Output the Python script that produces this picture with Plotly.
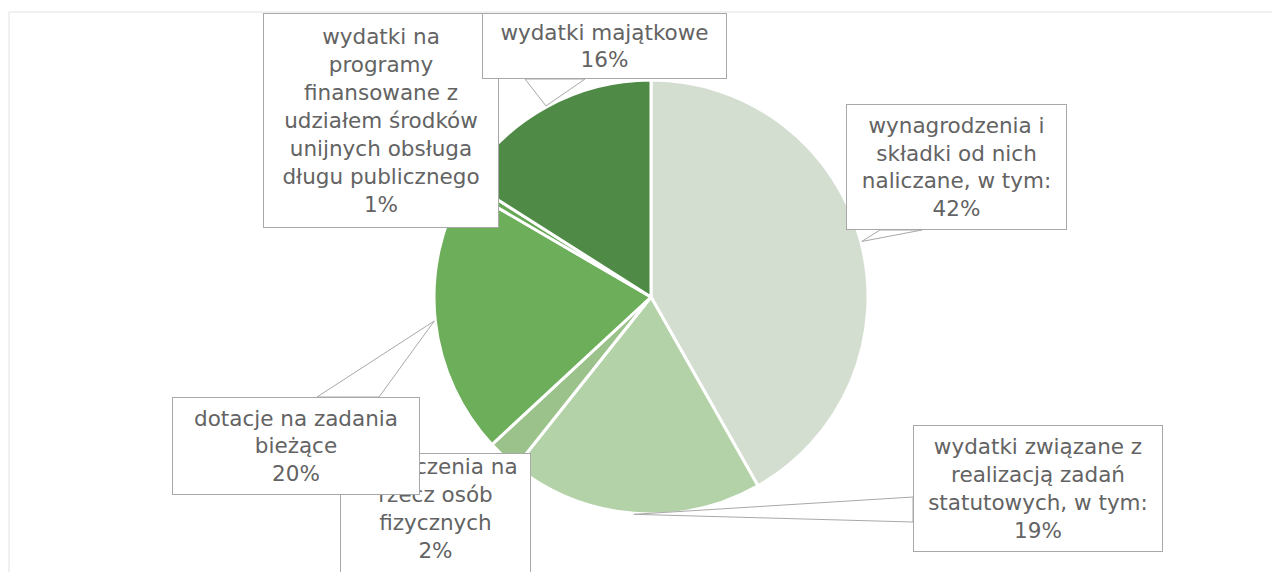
import math
import plotly.graph_objects as go

# ---- data ----
categories = [
    "wynagrodzenia i składki od nich naliczane, w tym:",
    "wydatki związane z realizacją zadań statutowych, w tym:",
    "świadczenia na rzecz osób fizycznych",
    "dotacje na zadania bieżące",
    "wydatki na programy finansowane z udziałem środków unijnych obsługa długu publicznego",
    "wydatki majątkowe",
]
values = [41.8, 18.9, 2.4, 20.3, 0.6, 16.0]
label_lines = [
    ["wynagrodzenia i", "składki od nich", "naliczane, w tym:"],
    ["wydatki związane z", "realizacją zadań", "statutowych, w tym:"],
    ["świadczenia na", "rzecz osób", "fizycznych"],
    ["dotacje na zadania", "bieżące"],
    ["wydatki na", "programy", "finansowane z", "udziałem środków", "unijnych obsługa", "długu publicznego"],
    ["wydatki majątkowe"],
]
colors = ["#d3ddd0", "#b4d2a7", "#9cc28b", "#6cae59", "#64a653", "#4f8b46"]

# ---- layout constants (page pixels) ----
W, H = 1280, 572
OFF = 8  # default page body margin
CX, CY, R = 651, 297, 217

# label boxes: left, top, right, bottom  (px)
boxes = [
    (846, 104, 1067, 230),
    (913, 425, 1163, 552),
    (340, 453, 531, 590),
    (172, 397, 420, 495),
    (263, 13, 499, 228),
    (482, 13, 727, 79),
]
valigns = ["middle", "middle", "top", "middle", "middle", "middle"]
# wedge base points on box edges (px), None = no visible pointer
wedge_bases = [
    ((880, 230), (922, 230)),
    ((913, 497), (913, 522)),
    None,
    ((317, 397), (379, 397)),
    None,
    ((525, 79), (585, 79)),
]
order = [0, 1, 2, 3, 4, 5]


def px(x):
    return (x - OFF) / W


def py(y):
    return 1 - (y - OFF) / H


total = sum(values)
fig = go.Figure()
fig.add_trace(go.Pie(
    labels=categories,
    values=values,
    sort=False,
    direction="clockwise",
    rotation=0,
    marker=dict(colors=colors, line=dict(color="white", width=3)),
    textinfo="none",
    hoverinfo="label+percent",
    showlegend=False,
    domain=dict(x=[px(CX - R), px(CX + R)], y=[py(CY + R), py(CY - R)]),
))

shapes = []
shapes.append(dict(type="line", xref="paper", yref="paper",
                   x0=px(9), x1=px(1290), y0=py(12), y1=py(12),
                   line=dict(color="#e2e2e2", width=1)))
shapes.append(dict(type="line", xref="paper", yref="paper",
                   x0=px(9), x1=px(9), y0=py(12), y1=py(590),
                   line=dict(color="#e2e2e2", width=1)))

annotations = []
cum = 0.0
tips = []
for v in values:
    mid = (cum + v / 2) / total
    th = 2 * math.pi * mid
    tips.append((CX + (R + 1) * math.sin(th), CY - (R + 1) * math.cos(th)))
    cum += v

for i in order:
    b = wedge_bases[i]
    if b is not None:
        (x1, y1), (x2, y2) = b
        tx, ty = tips[i]
        path = "M {} {} L {} {} L {} {} Z".format(px(x1), py(y1), px(tx), py(ty), px(x2), py(y2))
        shapes.append(dict(type="path", xref="paper", yref="paper", path=path,
                           fillcolor="white", line=dict(color="#a8a8a8", width=1),
                           layer="above"))

for i in order:
    l, t, r, bt = boxes[i]
    pct = round(values[i] / total * 100)
    text = "<br>".join(label_lines[i] + ["{}%".format(pct)])
    annotations.append(dict(
        x=px((l + r) / 2), y=py((t + bt) / 2), xref="paper", yref="paper",
        xanchor="center", yanchor="middle", valign=valigns[i],
        text=text, showarrow=False, align="center",
        width=r - l - 2, height=bt - t - 2,
        bgcolor="white", bordercolor="#a8a8a8", borderwidth=1, borderpad=0,
        font=dict(family="DejaVu Sans", size=21.5, color="#636363"),
    ))

fig.update_layout(
    width=W, height=H,
    margin=dict(l=0, r=0, t=0, b=0),
    paper_bgcolor="white", plot_bgcolor="white",
    shapes=shapes, annotations=annotations,
)
fig.write_html("out.html")
